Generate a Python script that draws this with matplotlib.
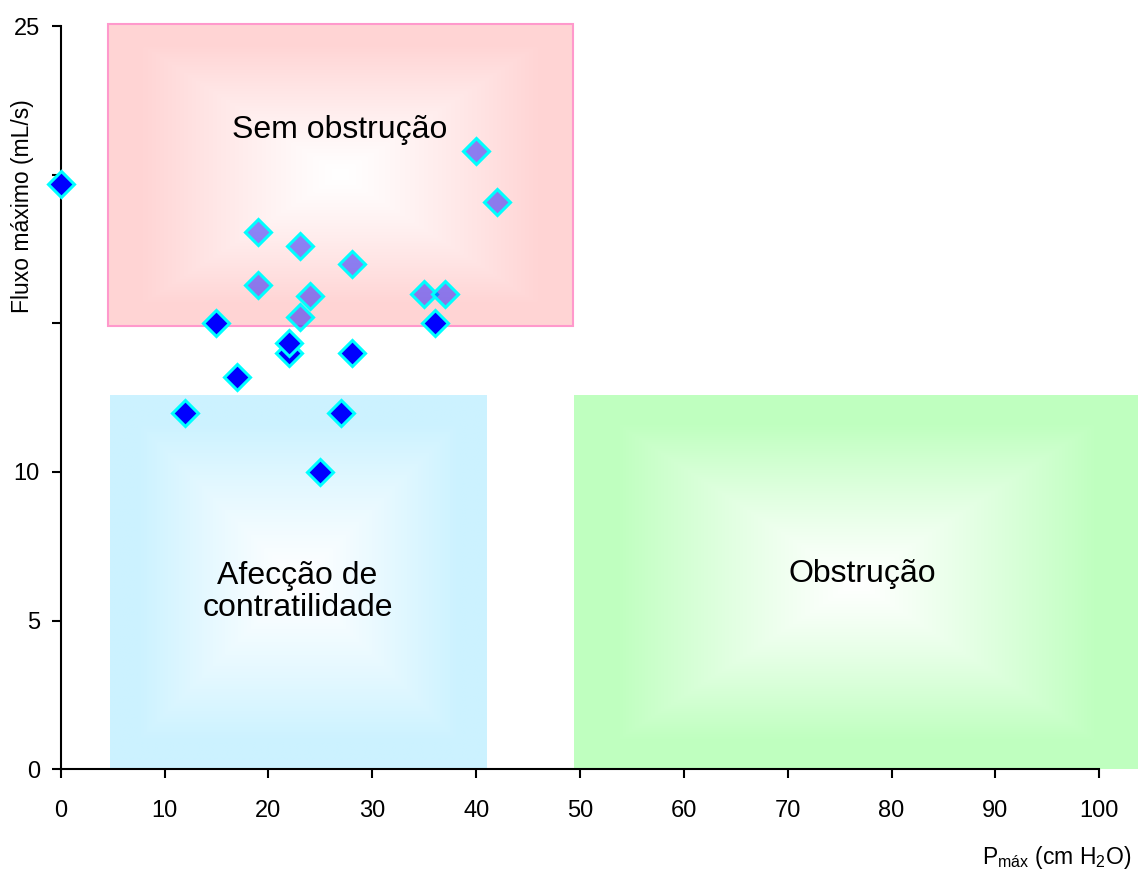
import numpy as np
import matplotlib
matplotlib.use("Agg")
import matplotlib.pyplot as plt
from matplotlib.patches import Rectangle

plt.rcParams['font.family'] = ['Liberation Sans', 'DejaVu Sans']
plt.rcParams['mathtext.fontset'] = 'custom'
plt.rcParams['mathtext.rm'] = 'Liberation Sans'
plt.rcParams['mathtext.it'] = 'Liberation Sans:italic'

# ---- data ----
dark_x = [0, 15, 36, 22, 22, 28, 17, 12, 27, 25]
dark_y = [19.7, 15.0, 15.0, 14.0, 14.33, 14.0, 13.2, 12.0, 12.0, 10.0]
light_x = [40, 42, 19, 23, 28, 19, 23, 24, 35, 37]
light_y = [20.8, 19.1, 18.07, 17.6, 17.0, 16.3, 15.23, 15.93, 16.0, 16.0]

x_ticks = [0, 10, 20, 30, 40, 50, 60, 70, 80, 90, 100]
y_ticks = [0, 5, 10, 15, 20, 25]
y_tick_labels = ['0', '5', '10', '', '', '25']

# regions: (x0, x1, y0, y1, edge colour, label)
regions = [
    (4.58, 49.35, 14.9, 25.1, (1.0, 0.835, 0.835), 'Sem obstrução'),
    (4.76, 41.0, 0.0, 12.56, (0.80, 0.95, 1.0), 'Afecção de\ncontratilidade'),
    (49.4, 103.75, 0.0, 12.56, (0.75, 1.0, 0.75), 'Obstrução'),
]
label_pos = [(26.9, 21.5), (22.8, 5.95), (77.2, 6.55)]

W, H = 1138, 871
fig = plt.figure(figsize=(W / 100, H / 100), dpi=100)
ax = fig.add_axes([60.7 / W, (H - 769) / H, (1099.3 - 60.7) / W, (769 - 26.5) / H])


def grad_img(edge, nx=300, ny=200):
    u = np.linspace(-1, 1, nx)
    v = np.linspace(-1, 1, ny)
    U, V = np.meshgrid(u, v)
    t = np.maximum(np.abs(U), np.abs(V))
    f = np.clip(t / 0.85, 0, 1) ** 1.2
    img = np.empty((ny, nx, 3))
    for i in range(3):
        img[..., i] = 1 + (edge[i] - 1) * f
    return img


for (x0, x1, y0, y1, col, lab), (lx, ly) in zip(regions, label_pos):
    im = ax.imshow(grad_img(col), extent=(x0, x1, y0, y1), origin='lower',
                   aspect='auto', zorder=1, interpolation='bilinear')
    im.set_clip_on(False)
    ax.text(lx, ly, lab, ha='center', va='center', fontsize=23,
            zorder=2, linespacing=1.1)

# pink border
x0, x1, y0, y1 = regions[0][:4]
ax.add_patch(Rectangle((x0, y0), x1 - x0, y1 - y0, fill=False,
                       edgecolor='#FF99CC', linewidth=1.5, zorder=2, clip_on=False))

ax.plot(dark_x, dark_y, linestyle='none', marker='D', markersize=13,
        markerfacecolor='#0000FF', markeredgecolor='#00FFFF',
        markeredgewidth=2.2, zorder=5, clip_on=False)
ax.plot(light_x, light_y, linestyle='none', marker='D', markersize=13,
        markerfacecolor=(0.0, 0.0, 1.0, 0.45), markeredgecolor='#00FFFF',
        markeredgewidth=2.2, zorder=6, clip_on=False)

ax.set_xlim(0, 100)
ax.set_ylim(0, 25)
ax.set_xticks(x_ticks)
ax.set_xticklabels([str(t) for t in x_ticks])
ax.set_yticks(y_ticks)
ax.set_yticklabels(y_tick_labels)

for s in ['top', 'right']:
    ax.spines[s].set_visible(False)
for s in ['left', 'bottom']:
    ax.spines[s].set_linewidth(1.5)
    ax.spines[s].set_color('black')
    ax.spines[s].set_zorder(4)
ax.tick_params(direction='out', length=6.5, width=1.5, labelsize=17)
ax.tick_params(axis='x', pad=15.5)
ax.tick_params(axis='y', pad=8.5)
ax.patch.set_visible(False)

fig.text(23 / W, (H - 206) / H, 'Fluxo máximo (mL/s)', rotation=90,
         ha='center', va='center', fontsize=16.5)
fig.text(1131 / W, (H - 864) / H, r'P$_{\mathrm{máx}}$ (cm H$_2$O)',
         ha='right', va='baseline', fontsize=16.5)

fig.savefig('out.png', dpi=100)
